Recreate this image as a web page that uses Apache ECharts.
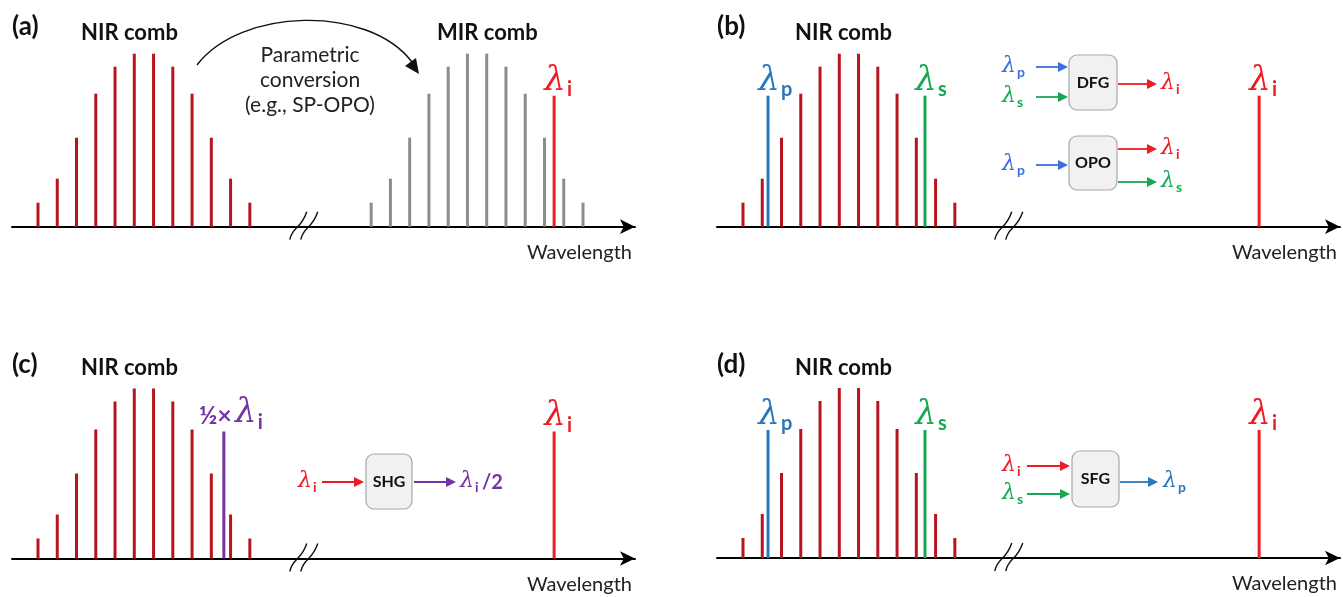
<!DOCTYPE html>
<html><head><meta charset="utf-8">
<script src="https://cdn.jsdelivr.net/npm/echarts@6/dist/echarts.min.js"></script>
<style>html,body{margin:0;padding:0;background:#fff}#c{width:1343px;height:597px}</style>
</head><body><div id="c"></div><script>
// ---------------- data ----------------
const combPos   = [1,2,3,4,5,6,7,8,9,10,11,12];
const combTop   = [24,48,89,133,160,173,173,160,133,89,48,24];   // panels (a),(b)
const combBot   = [20,44,85,129,157,170,170,157,129,85,44,20];   // panels (c),(d)
const mirPos    = [18.3,19.3,20.3,21.3,22.3,23.3,24.3,25.3,26.3,27.3,28.3,29.3];
const mirVal    = [24,48,89,133,160,173,173,160,133,89,48,24];
const idlerPos  = 27.8;
const idlerVal  = [131, 131, 127, 128];   // per panel a,b,c,d
const pumpPos   = 2.3;
const signalPos = 10.45;
const pumpVal   = [131, 128];             // panels b,d
const signalVal = [131, 128];             // panels b,d
const halfPos   = 10.65;
const halfVal   = 127;                    // panel c
const breakPos  = 14.8;
const panelTags = ['(a)','(b)','(c)','(d)'];
const combTitle = 'NIR comb';
const mirTitle  = 'MIR comb';
const axisName  = 'Wavelength';
const convText  = ['Parametric','conversion','(e.g., SP-OPO)'];

// ---------------- styles ----------------
const SANS  = 'Lato, "Open Sans", sans-serif';
const SERIF = '"DejaVu Serif", "Liberation Serif", serif';
const C = {dred:'#B8141E', red:'#EE1C25', gray:'#8C8C8C', blue:'#2A77BE', green:'#18A853',
           purple:'#7434A4', dblue:'#3C6FDF', box:'#F1F1F1', boxLine:'#A8A8A8'};

function lamTexts(xc, base, sub, color, size, subSize, subDx){
  return [
    {type:'text', x:xc, y:base, style:{text:'λ', fill:color, font:'italic '+size+'px '+SERIF, align:'center', verticalAlign:'bottom'}},
    {type:'text', x:xc+subDx, y:base+2, style:{text:sub, fill:color, font:'bold '+subSize+'px '+SANS, align:'left', verticalAlign:'bottom'}}
  ];
}

function stems(gi, pts, color, w, label){
  return {type:'custom', xAxisIndex:gi, yAxisIndex:gi, data:pts, clip:false, silent:true, z:3,
    renderItem(params, api){
      const x = api.value(0), h = api.value(1);
      const b = api.coord([x,0]), t = api.coord([x,h]);
      const ch = [{type:'rect', shape:{x:b[0]-w/2, y:t[1], width:w, height:b[1]-t[1]}, style:{fill:color}}];
      if (label) label(t[0], t[1]).forEach(e=>ch.push(e));
      return {type:'group', children:ch};
    }};
}
function breakMark(gi){
  return {type:'custom', xAxisIndex:gi, yAxisIndex:gi, data:[[breakPos,0]], clip:false, silent:true, z:5,
    renderItem(params, api){
      const p = api.coord([api.value(0), 0]);
      const mk = dx => ({type:'bezierCurve', shape:{x1:p[0]+dx-9, y1:p[1]+13, cpx1:p[0]+dx-6, cpy1:p[1]-1, cpx2:p[0]+dx+2, cpy2:p[1]+3, x2:p[0]+dx+8, y2:p[1]-15},
        style:{stroke:'#111', lineWidth:1.4, fill:null}});
      return {type:'group', children:[mk(-5), mk(6)]};
    }};
}
const mk = (xs, ys) => xs.map((x,i)=>[x, ys[i]]);

const grids = [
  {left:12,  top:26.7, width:623, height:200},
  {left:717, top:26.7, width:623, height:200},
  {left:12,  top:358.5,width:623, height:200},
  {left:717, top:358,  width:623, height:200}
];
const xAxes = grids.map((g,i)=>({type:'value', gridIndex:i, min:-0.35, max:32,
  axisLine:{show:true, onZero:false, symbol:['none','arrow'], symbolSize:[11,15], lineStyle:{color:'#000', width:2}},
  axisTick:{show:false}, axisLabel:{show:false}, splitLine:{show:false},
  name:axisName, nameLocation:'end', nameGap:-3,
  nameTextStyle:{color:'#222', fontFamily:SANS, fontSize:20, align:'right', verticalAlign:'top', padding:[16,0,0,0]}}));
const yAxes = grids.map((g,i)=>({type:'value', gridIndex:i, min:0, max:200, show:false}));

const lamStem = (sub,color) => (x,y)=>lamTexts(x+1, y+2, sub, color, 34, 20, 12);
const series = [
  stems(0, mk(combPos, combTop), C.dred, 3),
  stems(0, mk(mirPos, mirVal), C.gray, 3),
  stems(0, [[idlerPos, idlerVal[0]]], C.red, 3, lamStem('i', C.red)),
  breakMark(0),
  stems(1, mk(combPos, combTop), C.dred, 3),
  stems(1, [[pumpPos, pumpVal[0]]], C.blue, 3, lamStem('p', C.blue)),
  stems(1, [[signalPos, signalVal[0]]], C.green, 3, lamStem('s', C.green)),
  stems(1, [[idlerPos, idlerVal[1]]], C.red, 3, lamStem('i', C.red)),
  breakMark(1),
  stems(2, mk(combPos, combBot), C.dred, 3),
  stems(2, [[halfPos, halfVal]], C.purple, 3, (x,y)=>[
    {type:'text', x:x+8, y:y-3, style:{text:'½×', fill:C.purple, font:'bold 25px '+SANS, align:'right', verticalAlign:'bottom'}},
    ...lamTexts(x+22, y-1, 'i', C.purple, 34, 20, 12)]),
  stems(2, [[idlerPos, idlerVal[2]]], C.red, 3, lamStem('i', C.red)),
  breakMark(2),
  stems(3, mk(combPos, combBot), C.dred, 3),
  stems(3, [[pumpPos, pumpVal[1]]], C.blue, 3, lamStem('p', C.blue)),
  stems(3, [[signalPos, signalVal[1]]], C.green, 3, lamStem('s', C.green)),
  stems(3, [[idlerPos, idlerVal[3]]], C.red, 3, lamStem('i', C.red)),
  breakMark(3)
];

// ---------------- annotations ----------------
function txt(x,y,t,font,color,align){ return {type:'text', x, y, style:{text:t, font, fill:color||'#111', align:align||'left', verticalAlign:'middle'}}; }
function arrow(x1,y,x2,color){
  return [{type:'line', shape:{x1, y1:y, x2:x2-8, y2:y}, style:{stroke:color, lineWidth:1.8}},
          {type:'polygon', shape:{points:[[x2-10,y-5],[x2,y],[x2-10,y+5]]}, style:{fill:color}}];
}
function box(x,y,w,h,t){
  return [{type:'rect', shape:{x,y,width:w,height:h,r:8}, style:{fill:C.box, stroke:C.boxLine, lineWidth:1.2}},
          txt(x+w/2, y+h/2, t, 'bold 16px '+SANS, '#111', 'center')];
}
const lamS = (xc, yc, sub, color) => lamTexts(xc, yc+10, sub, color, 22, 14, 8);

let g = [];
// titles
[[12,27],[717,27],[12,365],[717,365]].forEach((p,i)=>g.push(txt(p[0],p[1],panelTags[i],'bold 26px '+SANS)));
g.push(txt(81,33,combTitle,'bold 22px '+SANS));
g.push(txt(437,33,mirTitle,'bold 22px '+SANS));
g.push(txt(795,33,combTitle,'bold 22px '+SANS));
g.push(txt(81,368,combTitle,'bold 22px '+SANS));
g.push(txt(795,368,combTitle,'bold 22px '+SANS));
convText.forEach((t,i)=>g.push(txt(310,55+i*25,t,'21px '+SANS,'#222','center')));
// curved arrow
g.push({type:'bezierCurve', shape:{x1:197,y1:65,cpx1:240,cpy1:8,cpx2:368,cpy2:4,x2:412,y2:62}, style:{stroke:'#111', lineWidth:1.4, fill:null}});
g.push({type:'polygon', shape:{points:[[405,66],[419,74],[416,58]]}, style:{fill:'#111'}});
// panel b diagrams
g = g.concat(lamS(1009,67,'p',C.dblue), arrow(1036,67,1068,C.dblue));
g = g.concat(lamS(1009,97,'s',C.green), arrow(1036,97,1068,C.green));
g = g.concat(box(1069,55,48,55,'DFG'));
g = g.concat(arrow(1118,84,1157,C.red), lamS(1168,84,'i',C.red));
g = g.concat(box(1069,136,48,54,'OPO'));
g = g.concat(lamS(1009,165,'p',C.dblue), arrow(1036,165,1068,C.dblue));
g = g.concat(arrow(1118,149,1157,C.red), lamS(1168,149,'i',C.red));
g = g.concat(arrow(1118,182,1157,C.green), lamS(1168,182,'s',C.green));
// panel c diagram
g = g.concat(lamS(305,482,'i',C.red), arrow(322,482,364,C.red));
g = g.concat(box(366,454,46,55,'SHG'));
g = g.concat(arrow(414,482,456,C.purple), lamS(467,482,'i',C.purple));
g.push({type:'text', x:482, y:493, style:{text:'/2', fill:C.purple, font:'bold 20px '+SANS, align:'left', verticalAlign:'bottom'}});
// panel d diagram
g = g.concat(lamS(1009,466,'i',C.red), arrow(1027,466,1070,C.red));
g = g.concat(lamS(1009,494,'s',C.green), arrow(1027,494,1070,C.green));
g = g.concat(box(1072,451,47,56,'SFG'));
g = g.concat(arrow(1120,482,1158,C.blue), lamS(1170,482,'p',C.blue));

const chart = echarts.init(document.getElementById('c'), null, {renderer:'canvas'});
chart.setOption({animation:false, backgroundColor:'#fff', grid:grids, xAxis:xAxes, yAxis:yAxes, series, graphic:g});
</script></body></html>
